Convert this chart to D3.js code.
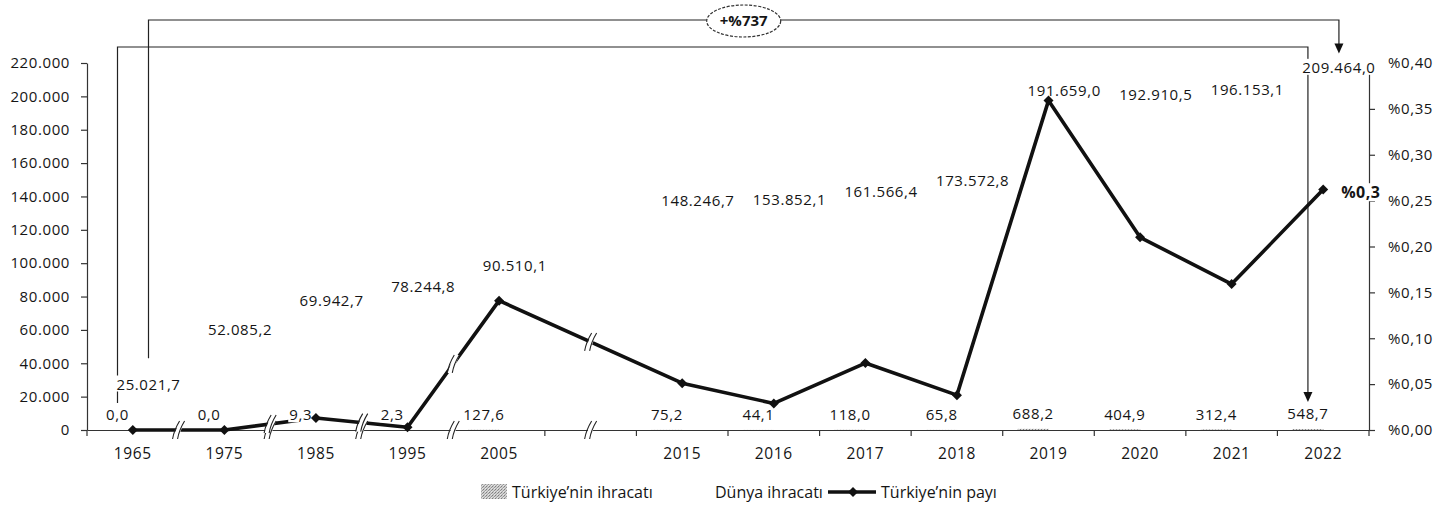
<!DOCTYPE html>
<html><head><meta charset="utf-8">
<script src="https://cdn.jsdelivr.net/npm/d3@7"></script>
<style>
html,body{margin:0;padding:0;background:#fff;}
svg{display:block;font-family:"Open Sans",sans-serif;}
</style></head><body>
<svg id="chart" width="1455" height="508"></svg>
<script>
// Categories on the x axis; the empty slot is the gap between 2005 and 2015
const categories = ["1965","1975","1985","1995","2005","","2015","2016","2017","2018","2019","2020","2021","2022"];
// Türkiye's exports (million $)
const turkeyExports = [0.0, 0.0, 9.3, 2.3, 127.6, null, 75.2, 44.1, 118.0, 65.8, 688.2, 404.9, 312.4, 548.7];
// World exports (million $)
const worldExports = [25021.7, 52085.2, 69942.7, 78244.8, 90510.1, null, 148246.7, 153852.1, 161566.4, 173572.8, 191659.0, 192910.5, 196153.1, 209464.0];
// Türkiye's share of world exports (%)
const turkeyShare = [0.000, 0.000, 0.013, 0.003, 0.141, null, 0.051, 0.029, 0.073, 0.038, 0.359, 0.210, 0.159, 0.262];
const leftTicks = [0, 20000, 40000, 60000, 80000, 100000, 120000, 140000, 160000, 180000, 200000, 220000];
const rightTicks = [0, 0.05, 0.10, 0.15, 0.20, 0.25, 0.30, 0.35, 0.40];
const growthLabel = "+%737";
const shareEndLabel = "%0,3";
const legendLabels = ["Türkiye’nin ihracatı", "Dünya ihracatı", "Türkiye’nin payı"];

// ---- layout ----
const plot = {left: 87, right: 1369, top: 63, bottom: 430};
const ink = "#151515";
// world-export labels moved off their bar tops (px, positive = down)
const worldLabelDrop = {"1965": 9, "2015": 31, "2016": 39, "2017": 44, "2018": 53, "2019": -7};

const trLocale = d3.formatLocale({decimal: ",", thousands: ".", grouping: [3], currency: ["", "₺"]});
const fmtAxis = trLocale.format(",.0f");
const fmtVal = trLocale.format(",.1f");
const fmtPct = trLocale.format(".2f");

const rows = categories.map((c, i) => ({cat: c, tr: turkeyExports[i], world: worldExports[i], share: turkeyShare[i]}));

const svg = d3.select("#chart");
const defs = svg.append("defs");
const pat = defs.append("pattern").attr("id", "grain").attr("width", 3).attr("height", 3)
  .attr("patternUnits", "userSpaceOnUse");
pat.append("rect").attr("width", 3).attr("height", 3).attr("fill", "#cfcfcf");
[[0,0,"#7e7e7e"],[2,1,"#939393"],[1,2,"#a3a3a3"],[2,2,"#e6e6e6"]].forEach(([x,y,c]) =>
  pat.append("rect").attr("x", x).attr("y", y).attr("width", 1).attr("height", 1).attr("fill", c));

const x0 = d3.scaleBand().domain(categories).range([plot.left, plot.right]);
const x1 = d3.scaleBand().domain(["tr", "world"]).range([15, 77]);
const yL = d3.scaleLinear().domain([0, 220000]).range([plot.bottom, plot.top]);
const yR = d3.scaleLinear().domain([0, 0.40]).range([plot.bottom, plot.top]);
const bw = x0.bandwidth();
const cx = c => x0(c) + bw / 2;
const barCx = (c, k) => x0(c) + x1(k) + x1.bandwidth() / 2;

// ---- bars (world exports in white, Türkiye exports grained) ----
const valid = rows.filter(d => d.world != null);
svg.append("g").selectAll("rect").data(valid).join("rect")
  .attr("x", d => x0(d.cat) + x1("world")).attr("width", x1.bandwidth())
  .attr("y", d => yL(d.world)).attr("height", d => yL(0) - yL(d.world))
  .attr("fill", "#fff");
svg.append("g").selectAll("rect").data(valid).join("rect")
  .attr("x", d => x0(d.cat) + x1("tr")).attr("width", x1.bandwidth())
  .attr("y", d => yL(d.tr)).attr("height", d => yL(0) - yL(d.tr))
  .attr("fill", "url(#grain)");

// label centre positions
const trLabelY = d => yL(d.tr) - 15;
const worldLabelY = d => yL(d.world) - 13 + (worldLabelDrop[d.cat] || 0);

// ---- growth brackets ----
const first = valid[0], last = valid[valid.length - 1];
const outerY = 20, innerY = 47;
const br = svg.append("g").attr("fill", "none").attr("stroke", "#222").attr("stroke-width", 1.2);
const xW0 = barCx(first.cat, "world"), xW1 = barCx(last.cat, "world");
const xT0 = barCx(first.cat, "tr"), xT1 = barCx(last.cat, "tr");
const outerTip = worldLabelY(last) - 14;
const innerTip = trLabelY(last) - 12;
br.append("path").attr("d", `M${xW0},${worldLabelY(first) - 26}V${outerY}H${xW1}V${outerTip - 8}`);
br.append("path").attr("d", `M${xT0},${trLabelY(first) - 12}V${innerY}H${xT1}V${innerTip - 8}`);
const arrow = (x, tip) => `M${x - 4.5},${tip - 10}L${x + 4.5},${tip - 10}L${x},${tip}Z`;
svg.append("path").attr("d", arrow(xW1, outerTip)).attr("fill", "#111");
svg.append("path").attr("d", arrow(xT1, innerTip)).attr("fill", "#111");
const ex = (xW0 + xW1) / 2;
svg.append("ellipse").attr("cx", ex).attr("cy", outerY + 1).attr("rx", 37).attr("ry", 16)
  .attr("fill", "#fff").attr("stroke", "#333").attr("stroke-width", 1.2).attr("stroke-dasharray", "3,1.5");
svg.append("text").attr("x", ex).attr("y", outerY + 1).attr("dy", "0.36em").attr("text-anchor", "middle")
  .attr("font-size", 15).attr("font-weight", 700).attr("fill", ink).text(growthLabel);

// ---- axes ----
const axisStyle = g => {
  g.selectAll("path,line").attr("stroke", "#333").attr("stroke-width", 1.2);
  g.selectAll("text").attr("fill", ink).attr("font-family", "Open Sans").attr("font-size", 15)
    .attr("letter-spacing", "0.6px");
};
svg.append("g").attr("transform", `translate(${plot.left},0)`)
  .call(d3.axisLeft(yL).tickValues(leftTicks).tickFormat(fmtAxis).tickSize(6).tickSizeOuter(0).tickPadding(11))
  .call(axisStyle);
svg.append("g").attr("transform", `translate(${plot.right},0)`)
  .call(d3.axisRight(yR).tickValues(rightTicks).tickFormat(d => "%" + fmtPct(d)).tickSize(6).tickSizeOuter(0).tickPadding(13))
  .call(axisStyle);
const xAxis = svg.append("g").attr("transform", `translate(0,${plot.bottom})`)
  .call(d3.axisBottom(x0).tickSize(0).tickSizeOuter(0).tickPadding(18))
  .call(axisStyle);
xAxis.selectAll("text").attr("font-size", 15.5);

// break positions: edges between the early decades and the middle of the empty slot
const breakXs = [1, 2, 3, 4].map(i => x0(categories[i])).concat([cx("")]);
const edgeXs = categories.map(c => x0(c)).concat([plot.right])
  .filter(x => !breakXs.some(b => Math.abs(b - x) < 1));
svg.append("g").selectAll("line").data(edgeXs).join("line")
  .attr("x1", d => d).attr("x2", d => d).attr("y1", plot.bottom).attr("y2", plot.bottom + 6)
  .attr("stroke", "#333").attr("stroke-width", 1.2);

// ---- share line ----
const pts = rows.filter(d => d.share != null);
const line = d3.line().x(d => cx(d.cat)).y(d => yR(d.share));
svg.append("path").datum(pts).attr("d", line)
  .attr("fill", "none").attr("stroke", "#111").attr("stroke-width", 3.6).attr("stroke-linejoin", "round");

// line height at a given x
function lineYAt(x) {
  for (let i = 0; i < pts.length - 1; i++) {
    const a = cx(pts[i].cat), b = cx(pts[i + 1].cat);
    if (x >= a && x <= b) return yR(pts[i].share) + (yR(pts[i + 1].share) - yR(pts[i].share)) * (x - a) / (b - a);
  }
  return plot.bottom;
}
function breakMark(g, x, y) {
  const h = 9, lean = 3.5, gap = 5;
  const a = [x - gap / 2 - lean, y + h], b = [x - gap / 2 + lean, y - h];
  const c = [x + gap / 2 + lean, y - h], d = [x + gap / 2 - lean, y + h];
  g.append("path").attr("d", `M${a}L${b}L${c}L${d}Z`).attr("fill", "#fff");
  g.append("path").attr("d", `M${a}Q${x - gap / 2 - 2},${y} ${b}`).attr("fill", "none").attr("stroke", "#222").attr("stroke-width", 1.1);
  g.append("path").attr("d", `M${d}Q${x + gap / 2 - 2},${y} ${c}`).attr("fill", "none").attr("stroke", "#222").attr("stroke-width", 1.1);
}
const brk = svg.append("g");
breakXs.forEach(x => {
  breakMark(brk, x, plot.bottom);
  const ly = lineYAt(x);
  if (Math.abs(ly - plot.bottom) > 3) breakMark(brk, x, ly);
});

// ---- value labels with white backing ----
function label(g, x, y, txt, opts = {}) {
  const t = g.append("text").attr("x", x).attr("y", y).attr("dy", "0.35em")
    .attr("text-anchor", opts.anchor || "middle").attr("font-size", opts.size || 15)
    .attr("font-weight", opts.weight || 400).attr("letter-spacing", opts.spacing || "0.6px")
    .attr("fill", ink).text(txt);
  const bb = t.node().getBBox();
  g.insert("rect", "text:last-child").attr("x", bb.x - 1).attr("y", bb.y + 2)
    .attr("width", bb.width + 2).attr("height", bb.height - 4).attr("fill", "#fff");
}
const lab = svg.append("g");
valid.forEach(d => {
  label(lab.append("g"), barCx(d.cat, "tr"), trLabelY(d), fmtVal(d.tr));
  label(lab.append("g"), barCx(d.cat, "world"), worldLabelY(d), fmtVal(d.world));
});
const lastPt = pts[pts.length - 1];
label(lab.append("g"), cx(lastPt.cat) + 18, yR(lastPt.share) + 3, shareEndLabel,
  {anchor: "start", weight: 700, size: 16, spacing: "0.5px"});

// ---- markers ----
const diamond = "M0,-5L5,0L0,5L-5,0Z";
svg.append("g").selectAll("path").data(pts).join("path")
  .attr("transform", d => `translate(${cx(d.cat)},${yR(d.share)})`)
  .attr("d", diamond).attr("fill", "#111");

// ---- legend ----
const lg = svg.append("g").attr("font-size", 16).attr("fill", ink);
const ly = 492;
lg.append("rect").attr("x", 481).attr("y", ly - 8).attr("width", 26).attr("height", 15).attr("fill", "url(#grain)");
lg.append("text").attr("x", 512).attr("y", ly).attr("dy", "0.35em").text(legendLabels[0]);
lg.append("rect").attr("x", 686).attr("y", ly - 8).attr("width", 26).attr("height", 15).attr("fill", "#fff");
lg.append("text").attr("x", 715).attr("y", ly).attr("dy", "0.35em").text(legendLabels[1]);
lg.append("line").attr("x1", 828).attr("x2", 876).attr("y1", ly).attr("y2", ly).attr("stroke", "#111").attr("stroke-width", 3.6);
lg.append("path").attr("transform", `translate(853,${ly})`).attr("d", diamond).attr("fill", "#111");
lg.append("text").attr("x", 881).attr("y", ly).attr("dy", "0.35em").text(legendLabels[2]);
</script>
</body></html>
